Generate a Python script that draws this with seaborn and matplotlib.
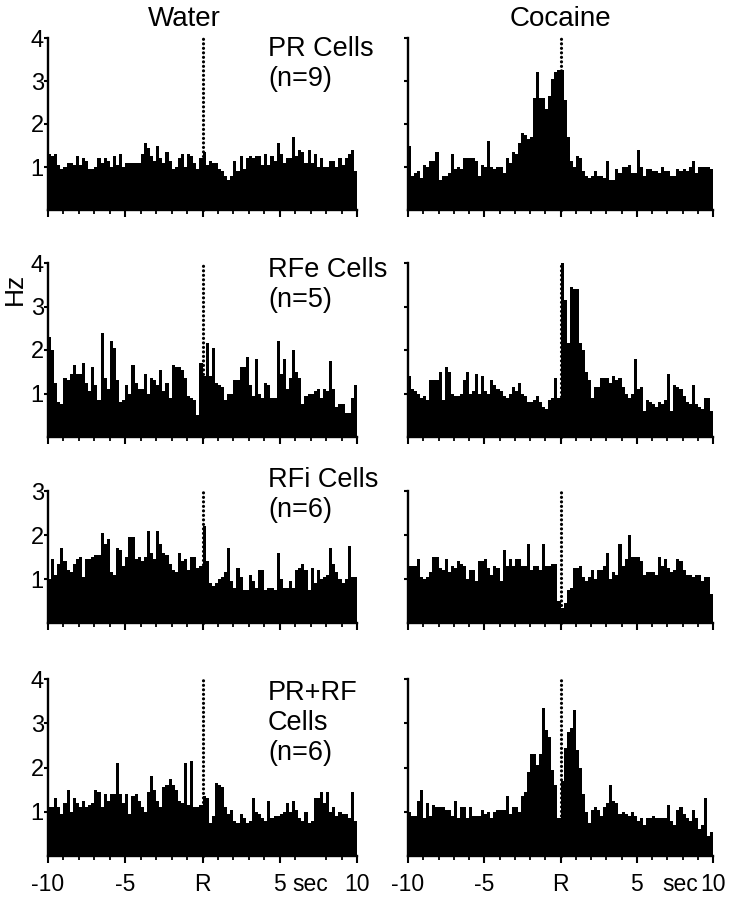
import numpy as np
import pandas as pd
import matplotlib
matplotlib.use("Agg")
import matplotlib.pyplot as plt
import seaborn as sns

# ---------------- data (Hz, 0.2 s bins from -10 to +10 s) ----------------
columns = ["Water", "Cocaine"]
row_labels = ["PR Cells\n(n=9)", "RFe Cells\n(n=5)", "RFi Cells\n(n=6)", "PR+RF\nCells\n(n=6)"]
row_ymax = [4, 4, 3, 4]
x_tick_labels = ["-10", "-5", "R", "5", "sec", "10"]

water_pr = [1.3, 1.25, 1.3, 1.05, 0.95, 1.0, 1.1, 1.1, 1.05, 1.25,
            1.05, 1.2, 1.15, 0.95, 0.95, 1.0, 1.2, 1.1, 1.2, 1.15,
            1.0, 1.25, 1.05, 1.3, 1.0, 1.1, 1.1, 1.1, 1.1, 1.1,
            1.3, 1.55, 1.45, 1.25, 1.15, 1.5, 1.2, 1.1, 1.35, 1.15,
            0.95, 1.0, 1.2, 1.3, 1.0, 1.3, 1.25, 1.1, 0.95, 1.2,
            1.35, 1.05, 1.15, 1.1, 1.1, 0.95, 0.9, 0.8, 0.7, 0.8,
            1.15, 0.9, 1.25, 0.95, 1.2, 1.25, 1.2, 1.25, 1.25, 1.05,
            1.3, 1.05, 1.25, 1.15, 1.55, 1.3, 1.1, 1.2, 1.2, 1.7,
            1.25, 1.4, 1.35, 1.1, 1.4, 1.1, 1.3, 1.0, 1.2, 1.0,
            1.0, 1.15, 1.15, 1.0, 1.2, 1.05, 1.2, 1.3, 1.4, 0.9]

cocaine_pr = [1.5, 0.8, 0.85, 0.9, 0.75, 1.05, 1.0, 1.15, 1.15, 1.35,
              0.7, 0.8, 0.8, 0.85, 1.3, 0.95, 1.0, 0.95, 1.2, 1.2,
              1.2, 1.2, 1.15, 0.8, 1.05, 1.0, 1.6, 1.0, 0.95, 1.0,
              1.0, 0.85, 1.2, 1.1, 1.35, 1.3, 1.55, 1.8, 1.75, 1.65,
              1.7, 2.6, 3.2, 2.6, 2.6, 2.35, 2.65, 3.05, 3.2, 3.25,
              3.25, 2.55, 1.7, 1.15, 1.0, 1.25, 1.2, 0.9, 0.8, 0.75,
              0.8, 0.9, 0.8, 0.8, 0.75, 1.15, 0.7, 0.7, 0.95, 0.85,
              1.0, 1.0, 1.05, 0.85, 0.85, 1.4, 1.0, 0.8, 0.95, 0.95,
              0.9, 0.9, 0.85, 1.0, 0.9, 0.9, 0.8, 0.8, 0.95, 0.9,
              0.95, 0.9, 1.0, 1.15, 0.85, 1.0, 1.0, 1.0, 1.0, 0.95]

water_rfe = [2.3, 2.0, 1.25, 0.8, 0.75, 1.35, 1.3, 1.45, 1.65, 1.45,
             1.45, 1.7, 1.25, 1.05, 1.6, 1.2, 0.85, 2.4, 1.35, 1.1,
             2.2, 2.05, 1.3, 0.8, 0.85, 1.2, 1.0, 1.65, 1.25, 1.1,
             1.1, 1.45, 1.0, 1.35, 1.3, 1.2, 1.55, 1.05, 1.25, 0.9,
             1.65, 1.6, 1.6, 1.55, 1.35, 0.95, 0.9, 0.85, 0.5, 1.7,
             1.4, 2.15, 1.4, 2.05, 1.25, 1.2, 1.15, 0.85, 1.0, 1.0,
             1.3, 1.3, 1.6, 1.6, 1.85, 1.2, 0.95, 1.8, 1.0, 0.9,
             1.25, 1.2, 0.9, 0.9, 2.2, 1.45, 1.8, 1.1, 1.35, 2.0,
             1.5, 1.35, 0.75, 0.95, 1.0, 1.0, 1.05, 1.1, 0.9, 1.1,
             1.05, 1.75, 1.1, 0.7, 0.75, 0.75, 0.55, 0.55, 0.9, 1.2]

cocaine_rfe = [1.4, 1.1, 1.05, 1.0, 0.9, 0.95, 0.85, 1.3, 1.3, 1.3,
               1.5, 0.85, 1.6, 1.5, 1.0, 0.95, 0.95, 1.0, 1.3, 1.5,
               1.0, 1.05, 1.45, 1.0, 1.4, 1.05, 1.0, 1.3, 1.2, 1.1,
               1.05, 0.95, 0.9, 1.0, 1.15, 1.05, 1.25, 1.0, 0.95, 0.8,
               0.8, 0.85, 0.95, 0.8, 0.7, 0.65, 0.85, 0.9, 1.35, 0.9,
               4.0, 3.15, 2.15, 3.45, 3.4, 3.4, 2.15, 2.0, 1.5, 1.3,
               0.9, 1.15, 1.15, 1.35, 1.35, 1.35, 1.25, 1.4, 1.3, 1.35,
               1.15, 1.0, 0.9, 1.0, 1.8, 1.1, 1.15, 0.6, 0.85, 0.8,
               0.75, 0.7, 0.8, 0.75, 0.85, 1.45, 0.6, 1.2, 1.15, 1.1,
               0.95, 0.8, 0.75, 1.2, 0.75, 0.7, 0.65, 0.9, 0.9, 0.6]

water_rfi = [1.0, 1.45, 1.1, 1.35, 1.7, 1.4, 1.2, 1.15, 1.35, 1.45,
             1.5, 1.05, 1.45, 1.45, 1.5, 1.55, 1.55, 2.05, 1.8, 1.9,
             1.15, 1.1, 1.7, 1.65, 1.3, 1.5, 1.95, 1.95, 1.45, 1.5,
             1.4, 1.5, 2.1, 1.6, 1.45, 2.1, 1.8, 1.6, 1.55, 1.35,
             1.2, 1.15, 1.6, 1.4, 1.45, 1.2, 1.5, 1.5, 1.25, 1.3,
             2.2, 1.4, 0.9, 0.85, 0.9, 1.0, 1.05, 1.15, 1.7, 0.95,
             0.8, 1.25, 1.05, 0.75, 0.75, 1.1, 0.95, 0.8, 1.2, 1.2,
             0.75, 0.8, 0.8, 0.75, 1.6, 1.0, 0.8, 0.8, 0.95, 0.8,
             1.2, 1.25, 1.35, 1.2, 0.75, 1.25, 0.9, 1.2, 1.0, 1.05,
             1.1, 1.7, 1.35, 1.15, 1.0, 0.9, 1.0, 1.75, 1.05, 1.05]

cocaine_rfi = [1.3, 1.3, 1.3, 1.45, 1.05, 1.0, 1.05, 1.15, 1.5, 1.5,
               1.25, 1.2, 1.45, 1.15, 1.3, 1.25, 1.4, 1.35, 1.3, 1.0,
               1.2, 1.2, 0.95, 1.4, 1.4, 1.45, 1.25, 1.1, 1.3, 1.25,
               0.95, 1.65, 1.3, 1.45, 1.3, 1.45, 1.45, 1.3, 1.3, 1.8,
               1.2, 1.3, 1.3, 1.2, 1.8, 1.3, 1.3, 1.35, 1.35, 0.5,
               0.35, 0.45, 0.75, 0.8, 1.25, 1.25, 1.3, 1.05, 0.95, 1.05,
               1.2, 1.0, 1.2, 1.2, 1.3, 1.6, 1.0, 1.15, 1.1, 1.8,
               1.3, 1.45, 2.0, 1.5, 1.5, 1.5, 1.4, 1.1, 1.15, 1.15,
               1.15, 1.1, 1.5, 1.3, 1.45, 1.25, 1.15, 1.2, 1.45, 1.4,
               1.2, 1.1, 1.1, 1.05, 1.1, 1.1, 0.95, 1.05, 1.05, 0.65]

water_prrf = [1.1, 1.1, 1.3, 1.1, 0.95, 1.2, 1.5, 1.0, 1.3, 1.2,
              1.1, 1.25, 1.1, 1.15, 1.2, 1.5, 1.45, 1.1, 1.4, 1.25,
              1.4, 1.4, 2.1, 1.4, 1.2, 1.4, 0.95, 1.35, 1.4, 1.25,
              1.1, 1.0, 1.45, 1.8, 1.5, 1.25, 1.1, 1.55, 1.6, 1.75,
              1.6, 1.5, 1.25, 1.2, 2.1, 1.15, 2.15, 1.1, 1.1, 1.15,
              1.35, 1.3, 0.75, 0.9, 1.65, 1.6, 1.55, 1.1, 0.95, 1.05,
              0.8, 0.75, 0.95, 0.85, 0.75, 0.8, 1.3, 1.0, 0.95, 0.85,
              0.8, 1.25, 0.85, 0.9, 0.9, 0.95, 1.0, 1.2, 1.0, 1.25,
              1.05, 0.85, 0.8, 1.0, 0.75, 0.8, 1.3, 1.3, 1.45, 1.2,
              1.45, 1.0, 1.1, 0.9, 1.0, 0.95, 0.95, 0.85, 1.45, 0.8]

cocaine_prrf = [1.0, 0.9, 0.9, 1.25, 1.5, 0.85, 1.2, 0.9, 1.15, 1.1,
                1.1, 1.1, 1.05, 1.05, 0.9, 1.25, 0.85, 1.1, 1.1, 0.85,
                1.1, 0.9, 0.9, 0.9, 1.05, 0.95, 1.0, 0.85, 1.0, 1.05,
                1.05, 1.05, 1.35, 0.95, 1.1, 1.1, 1.0, 1.35, 1.45, 1.9,
                2.3, 2.3, 2.05, 2.3, 3.35, 2.85, 2.7, 1.95, 1.6, 0.85,
                1.7, 2.45, 2.8, 2.9, 3.3, 2.4, 2.0, 1.4, 1.0, 0.75,
                1.05, 1.1, 1.05, 0.9, 1.1, 1.2, 1.6, 1.25, 1.2, 0.95,
                1.0, 0.95, 0.9, 1.0, 0.9, 0.8, 0.85, 0.7, 0.85, 0.85,
                0.9, 0.85, 0.85, 0.85, 0.85, 1.15, 0.8, 0.7, 1.05, 1.1,
                0.95, 0.85, 0.8, 1.05, 0.85, 0.6, 0.7, 1.3, 0.45, 0.55]

panels = [[water_pr, cocaine_pr],
          [water_rfe, cocaine_rfe],
          [water_rfi, cocaine_rfi],
          [water_prrf, cocaine_prrf]]

# ---------------- figure ----------------
sns.set_style("ticks")
plt.rcParams["font.family"] = ["Liberation Sans", "DejaVu Sans"]
plt.rcParams.update({"text.color": "black", "axes.edgecolor": "black",
                     "xtick.color": "black", "ytick.color": "black",
                     "axes.labelcolor": "black"})

W, H = 740, 899
fig = plt.figure(figsize=(W / 100, H / 100), dpi=100)

col_px = [(48, 357), (408, 713)]
row_px = [(38, 210), (263, 437), (491, 623), (679, 856)]
label_top_px = [36, 257, 467, 680]
sec_pos = [7.0, 7.85]

n_bins = 100
centers = -10 + 0.2 * (np.arange(n_bins) + 0.5)

for r in range(4):
    for c in range(2):
        x0, x1 = col_px[c]
        yt, yb = row_px[r]
        ax = fig.add_axes([x0 / W, 1 - yb / H, (x1 - x0) / W, (yb - yt) / H])
        df = pd.DataFrame({"t": centers, "hz": np.asarray(panels[r][c], float)})
        sns.histplot(data=df, x="t", weights="hz", bins=n_bins, binrange=(-10, 10),
                     element="step", fill=True, color="black", alpha=1,
                     linewidth=0, ax=ax)
        ymax = row_ymax[r]
        ax.plot([0, 0], [0, ymax], color="black", lw=2.3,
                linestyle=(0, (0.01, 1.4)), dash_capstyle="round",
                zorder=5, clip_on=False)
        ax.set_xlim(-10, 10)
        ax.set_ylim(0, ymax)
        ax.set_xlabel("")
        ax.set_ylabel("")
        sns.despine(ax=ax)
        for sp in ["left", "bottom"]:
            ax.spines[sp].set_linewidth(1.7)
        ax.set_yticks(list(range(1, ymax + 1)))
        ax.tick_params(axis="y", direction="out", length=3, width=1.5, pad=0,
                       labelsize=17)
        if c == 1:
            ax.set_yticklabels([])
        ax.set_xticks(np.arange(-10, 11, 1), minor=True)
        ax.tick_params(axis="x", which="minor", direction="out", length=3, width=1.3)
        if r == 3:
            pos = [-10, -5, 0, 5, sec_pos[c], 10]
            ax.set_xticks(pos)
            ax.set_xticklabels(x_tick_labels)
            ax.xaxis.get_major_ticks()[4].tick1line.set_visible(False)
            ax.tick_params(axis="x", which="major", direction="out", length=5,
                           width=1.5, labelsize=16.5, pad=7)
        else:
            ax.set_xticks([-10, -5, 0, 5, 10])
            ax.set_xticklabels([])
            ax.tick_params(axis="x", which="major", direction="out", length=5, width=1.5)

    fig.text(268 / W, 1 - label_top_px[r] / H, row_labels[r], ha="left", va="top",
             fontsize=19.5, linespacing=1.2)

fig.text(184 / W, 1 - 26 / H, columns[0], ha="center", va="baseline", fontsize=20)
fig.text(560 / W, 1 - 26 / H, columns[1], ha="center", va="baseline", fontsize=20)
fig.text(15 / W, 1 - 289 / H, "Hz", ha="center", va="center", rotation=90, fontsize=19)

fig.savefig("out.png", dpi=100)
